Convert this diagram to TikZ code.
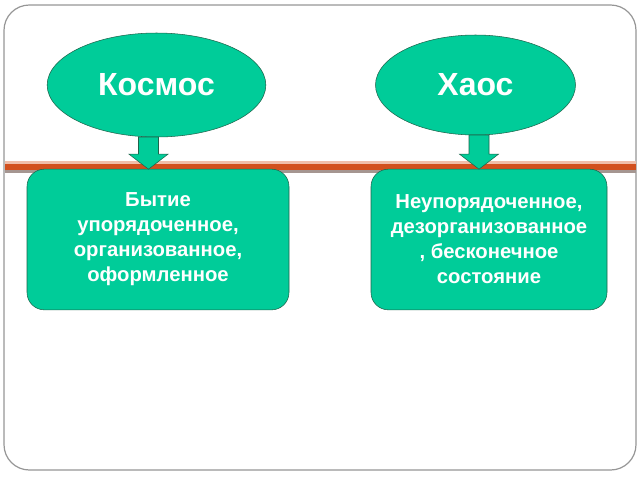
\documentclass[tikz,border=0pt]{standalone}
\usepackage{fontspec}
\setmainfont{Liberation Sans}
\usepackage{xcolor}
\usepackage{tikz}
\usetikzlibrary{shapes.geometric}
\usetikzlibrary{calc}

\definecolor{greenfill}{RGB}{0,204,153}
\definecolor{greenedge}{RGB}{30,100,75}
\definecolor{rule}{RGB}{210,80,30}
\definecolor{rulelight}{RGB}{240,190,170}
\definecolor{ruleshadow}{RGB}{165,150,145}
\definecolor{frame}{RGB}{150,150,150}

\tikzset{
    oval/.style = {ellipse, draw = greenedge, fill = greenfill, text = white,
        font = \fontsize{24}{28}\selectfont\bfseries,
        minimum width = 164pt, minimum height = 78pt, inner sep = 0pt, outer sep = 0pt},
    panel/.style = {rectangle, rounded corners = 13pt, draw = greenedge, fill = greenfill,
        text = white, align = center,
        font = \fontsize{15.2}{18.8}\selectfont\bfseries,
        minimum height = 105.5pt, inner sep = 0pt, outer sep = 0pt},
    blockarr/.style = {draw = greenedge, fill = greenfill, line join = miter}
}

\begin{document}
\begin{tikzpicture}[x = 0.75pt, y = -0.75pt]
        \useasboundingbox (0, 0) rectangle (640, 480);

        % slide
        \filldraw [draw = frame, fill = white, line width = 0.9pt, rounded corners = 19pt]
            (4, 5) rectangle (636, 470);
        \fill [rulelight] (4.5, 161) rectangle (635.5, 164);
        \fill [rule] (4.5, 164) rectangle (635.5, 170);
        \fill [ruleshadow] (4.5, 170) rectangle (635.5, 173);

        % two ideas
        \node [oval] (kosmos) at (156.5, 85) {Космос};
        \node [oval, minimum width = 150pt, minimum height = 75pt] (khaos) at (475.5, 85) {Хаос};

        \node [panel, minimum width = 196.5pt] (bytie) at (158, 239.5)
            {Бытие\\упорядоченное,\\организованное,\\оформленное};
        \node [panel, minimum width = 177pt] (sost) at (489, 239.5)
            {Неупорядоченное,\\дезорганизованное\\, бесконечное\\состояние};

        % arrows
        \coordinate (k1) at ($(kosmos.south) + (-8, 0)$);
        \coordinate (k2) at (k1 |- bytie.north);
        \filldraw [blockarr] ($(k1) + (-10, 0)$) -- ($(k2) + (-10, -15)$) -- ($(k2) + (-19.5, -15)$)
            -- (k2) -- ($(k2) + (19.5, -15)$) -- ($(k2) + (10, -15)$) -- ($(k1) + (10, 0)$) -- cycle;

        \coordinate (h1) at ($(khaos.south) + (3.5, 0)$);
        \coordinate (h2) at (h1 |- sost.north);
        \filldraw [blockarr] ($(h1) + (-10, 0)$) -- ($(h2) + (-10, -15)$) -- ($(h2) + (-19.5, -15)$)
            -- (h2) -- ($(h2) + (19.5, -15)$) -- ($(h2) + (10, -15)$) -- ($(h1) + (10, 0)$) -- cycle;
    \end{tikzpicture}
\end{document}
